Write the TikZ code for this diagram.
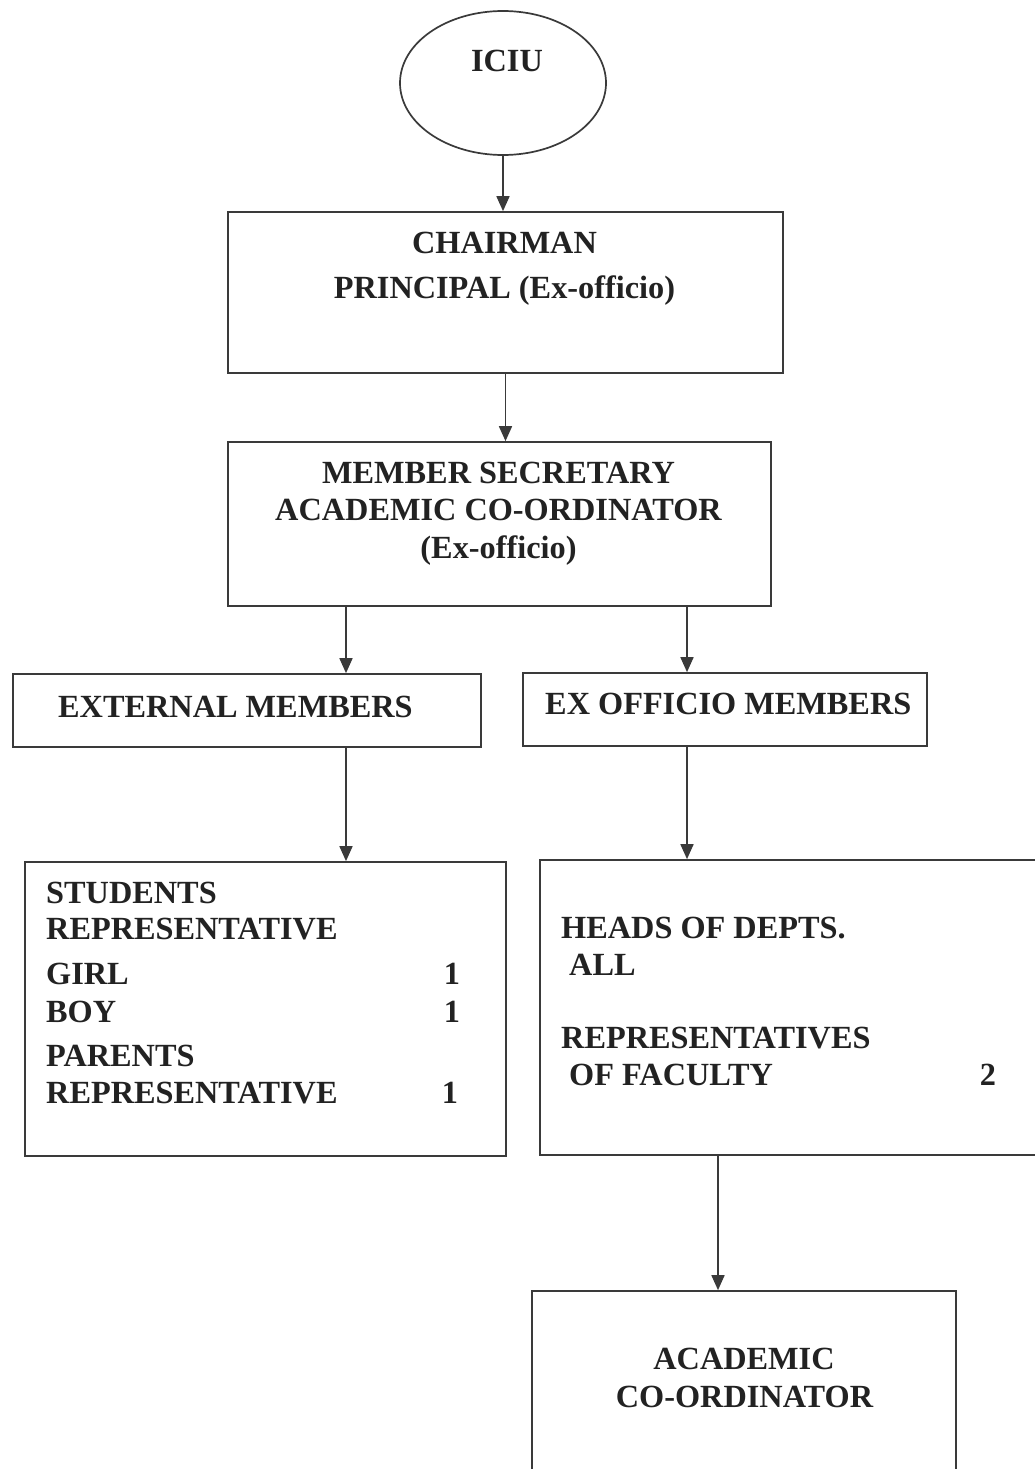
\documentclass[tikz,border=0pt]{standalone}
\usepackage{fontspec}
\setmainfont{Liberation Serif}
\usetikzlibrary{arrows.meta,shapes.geometric}
\definecolor{linec}{HTML}{3A3A3A}
\definecolor{textc}{HTML}{222222}
\begin{document}
\begin{tikzpicture}[x=1pt,y=-1pt,
  box/.style={draw=linec,line width=1.7pt,rectangle,inner sep=0pt},
  oval/.style={draw=linec,line width=1.7pt,ellipse,inner sep=0pt},
  txt/.style={inner sep=0pt,text=textc,font=\bfseries\fontsize{32.3}{38}\selectfont},
  arr/.style={draw=linec,line width=1.7pt,-{Triangle[length=15pt,width=13pt]}}]
\useasboundingbox (0,0) rectangle (1035,1469);
\fill[white] (0,0) rectangle (1035,1469);
\clip (0,0) rectangle (1035,1469);

% boxes
\node[oval,minimum width=206pt,minimum height=144pt] (iciu) at (503,83) {};
\node[box,minimum width=555pt,minimum height=161pt] (chair) at (505.5,292.5) {};
\node[box,minimum width=543pt,minimum height=164pt] (mem) at (499.5,524) {};
\node[box,minimum width=468pt,minimum height=73pt] (ext) at (247,710.5) {};
\node[box,minimum width=404pt,minimum height=73pt] (exo) at (725,709.5) {};
\node[box,minimum width=481pt,minimum height=294pt] (lb) at (265.5,1009) {};
\node[box,minimum width=505pt,minimum height=295pt] (rb) at (792.5,1007.5) {};
\node[box,minimum width=424pt,minimum height=189pt] (acad) at (744,1385.5) {};

% texts
\node[txt,anchor=base] (iciuT) at (507,72) {ICIU};
\node[txt,anchor=base] (chairT1) at (504.5,253) {CHAIRMAN};
\node[txt,anchor=base] (chairT2) at (504.5,298) {PRINCIPAL (Ex-officio)};
\node[txt,anchor=base] (memT1) at (498.5,483) {MEMBER SECRETARY};
\node[txt,anchor=base] (memT2) at (498.5,520) {ACADEMIC CO-ORDINATOR};
\node[txt,anchor=base] (memT3) at (498.5,558) {(Ex-officio)};
\node[txt,anchor=base west] (extT) at (58,717) {EXTERNAL MEMBERS};
\node[txt,anchor=base west] (exoT) at (545,714) {EX OFFICIO MEMBERS};

\node[txt,anchor=base west] (lbT1) at (46,903) {STUDENTS};
\node[txt,anchor=base west] (lbT2) at (46,939) {REPRESENTATIVE};
\node[txt,anchor=base west] (lbT3) at (46,984) {GIRL};
\node[txt,anchor=base west] (lbT4) at (46,1022) {BOY};
\node[txt,anchor=base west] (lbT5) at (46,1066) {PARENTS};
\node[txt,anchor=base west] (lbT6) at (46,1103) {REPRESENTATIVE};
\node[txt,anchor=base] (lbN1) at (452,984) {1};
\node[txt,anchor=base] (lbN2) at (452,1022) {1};
\node[txt,anchor=base] (lbN3) at (450,1103) {1};

\node[txt,anchor=base west] (rbT1) at (561,938) {HEADS OF DEPTS.};
\node[txt,anchor=base west] (rbT2) at (569,975) {ALL};
\node[txt,anchor=base west] (rbT3) at (561,1048) {REPRESENTATIVES};
\node[txt,anchor=base west] (rbT4) at (569,1085) {OF FACULTY};
\node[txt,anchor=base] (rbN1) at (988,1085) {2};

\node[txt,anchor=base] (acadT1) at (744,1369) {ACADEMIC};
\node[txt,anchor=base] (acadT2) at (744.5,1407) {CO-ORDINATOR};

% connectors
\draw[arr] (iciu.south) -- (iciu.south |- chair.north);
\draw[arr] (chair.south) -- (chair.south |- mem.north);
\draw[arr] ([xshift=-153.5pt]mem.south) -- ([xshift=-153.5pt]mem.south |- ext.north);
\draw[arr] ([xshift=187.5pt]mem.south) -- ([xshift=187.5pt]mem.south |- exo.north);
\draw[arr] ([xshift=99pt]ext.south) -- ([xshift=99pt]ext.south |- lb.north);
\draw[arr] ([xshift=-38pt]exo.south) -- ([xshift=-38pt]exo.south |- rb.north);
\draw[arr] ([xshift=-74.5pt]rb.south) -- ([xshift=-74.5pt]rb.south |- acad.north);
\end{tikzpicture}
\end{document}
